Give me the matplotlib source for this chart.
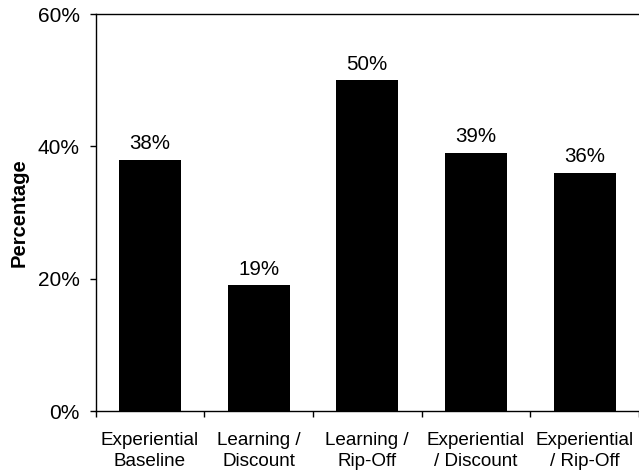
import matplotlib
matplotlib.use("Agg")
import matplotlib.pyplot as plt
import numpy as np

categories = ["Experiential\nBaseline", "Learning /\nDiscount", "Learning /\nRip-Off",
              "Experiential\n/ Discount", "Experiential\n/ Rip-Off"]
values = [38, 19, 50, 39, 36]
yticks = [0, 20, 40, 60]
ytick_labels = ["0%", "20%", "40%", "60%"]

plt.rcParams['font.family'] = ['Liberation Sans', 'DejaVu Sans']

fig = plt.figure(figsize=(6.39, 4.73), dpi=100)
ax = fig.add_axes([0.1495, 0.131, 0.8505, 0.839])

x = np.arange(len(categories))
ax.bar(x, values, width=0.57, color="black")
for xi, v in zip(x, values):
    ax.text(xi, v + 1.0, f"{v}%", ha="center", va="bottom", fontsize=14.8)

ax.set_xlim(-0.5, len(categories) - 0.5)
ax.set_ylim(0, 60)
ax.set_yticks(yticks)
ax.set_yticklabels(ytick_labels, fontsize=15)
ax.set_xticks(x)
ax.set_xticklabels(categories, fontsize=13.6, linespacing=1.28)
ax.tick_params(axis="x", which="major", length=0, pad=15)
ax.set_xticks(np.arange(-0.5, len(categories), 1.0), minor=True)
ax.tick_params(axis="x", which="minor", length=4.3, width=1, direction="out")
ax.tick_params(axis="y", length=4.3, width=1, direction="out", pad=7)
ax.set_ylabel("Percentage", fontsize=14.5, fontweight="bold", labelpad=6.5)

ax.spines["right"].set_visible(False)
for s in ["left", "bottom", "top"]:
    ax.spines[s].set_linewidth(1)

fig.savefig("out.png", dpi=100)
